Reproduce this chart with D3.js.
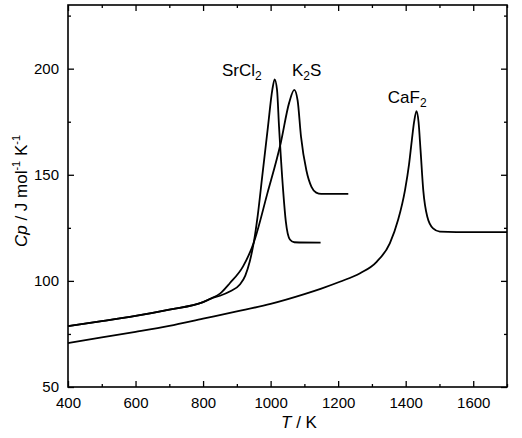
<!DOCTYPE html>
<html>
<head>
<meta charset="utf-8">
<script src="https://cdn.jsdelivr.net/npm/d3@7"></script>
<style>
  body { margin: 0; background: #fff; }
  text { font-family: "Liberation Sans", Arial, sans-serif; fill: #000; }
</style>
</head>
<body>
<div id="chart"></div>
<script>
// data (T in K, Cp in J mol-1 K-1)
var srcl2T  = [400, 500, 600, 700, 800, 825, 850, 879, 909, 925, 938, 950, 962, 975, 992, 1005, 1012, 1019, 1025, 1037, 1045, 1057, 1070, 1148];
var srcl2Cp = [78.7, 81, 83.5, 86.5, 90, 91.8, 93, 95, 98.3, 102.5, 109, 118, 131, 149, 172.5, 190, 195, 190, 172.5, 142.8, 128, 119.5, 118.2, 118];

var k2sT  = [400, 500, 600, 700, 800, 825, 850, 879, 918, 950, 990, 1030, 1055, 1070, 1080, 1090, 1106, 1121, 1135, 1150, 1230];
var k2sCp = [78.7, 81, 83.5, 86.5, 90, 91.8, 94, 98.9, 106.7, 118, 141, 165, 184, 190, 185, 168, 152, 144.3, 141.6, 141, 141];

var caf2T  = [400, 500, 600, 700, 800, 900, 1000, 1100, 1150, 1205, 1265, 1314, 1353, 1378, 1398, 1410, 1418, 1425, 1432, 1438, 1444, 1452, 1464, 1481, 1501, 1550, 1700];
var caf2Cp = [70.7, 73.4, 76, 78.8, 82.2, 85.6, 89.2, 93.8, 96.4, 99.6, 103.6, 109, 117.7, 129, 142.8, 155, 166, 175, 180, 175, 161.6, 142.8, 130.2, 124.7, 123.2, 123, 123];

var xTicks = [400, 600, 800, 1000, 1200, 1400, 1600];
var yTicks = [50, 100, 150, 200];

var labelNames = ["SrCl", "K", "CaF"];
var labelSubs  = ["2", "2", "2"];
var labelTail  = ["", "S", ""];
var labelT     = [856, 1063, 1347];
var labelCp    = [196.4, 196.4, 184];

// layout
var width = 522, height = 438;
var margin = {top: 5, right: 15, bottom: 51, left: 68};

var svg = d3.select("#chart").append("svg")
    .attr("width", width)
    .attr("height", height);

var xScale = d3.scaleLinear().domain([400, 1700]).range([margin.left, width - margin.right]);
var yScale = d3.scaleLinear().domain([50, 230]).range([height - margin.bottom, margin.top]);

var x0 = xScale.range()[0], x1 = xScale.range()[1];
var y0 = yScale.range()[0], y1 = yScale.range()[1];

// axes, ticks pointing inward on all four sides
var xMinor = d3.range(400, 1701, 100);
var yMinor = d3.range(50, 231, 25);

function drawX(g, major, size, labels) {
    g.call(d3.axisBottom(xScale).tickValues(major).tickSize(-size).tickPadding(size + 4).tickSizeOuter(0).tickFormat(labels ? d3.format("d") : ""));
}
function drawY(g, major, size, labels) {
    g.call(d3.axisLeft(yScale).tickValues(major).tickSize(-size).tickPadding(size + 3).tickSizeOuter(0).tickFormat(labels ? d3.format("d") : ""));
}

var gx = svg.append("g").attr("transform", `translate(0,${y0})`);
gx.call(g => drawX(g, xMinor.filter(d => d % 200 != 0), 3, false));
var gx2 = svg.append("g").attr("transform", `translate(0,${y0})`);
gx2.call(g => drawX(g, xTicks, 6, true));

var gxt = svg.append("g").attr("transform", `translate(0,${y1})`);
gxt.call(d3.axisTop(xScale).tickValues(xMinor).tickSize(0).tickFormat(""));
gxt.selectAll(".tick").append("line").attr("y2", d => d % 200 == 0 ? 6 : 3);

var gy = svg.append("g").attr("transform", `translate(${x0},0)`);
gy.call(g => drawY(g, yMinor.filter(d => d % 50 != 0), 3, false));
var gy2 = svg.append("g").attr("transform", `translate(${x0},0)`);
gy2.call(g => drawY(g, yTicks, 6, true));

var gyr = svg.append("g").attr("transform", `translate(${x1},0)`);
gyr.call(d3.axisRight(yScale).tickValues(yMinor).tickSize(0).tickFormat(""));
gyr.selectAll(".tick").append("line").attr("x2", d => d % 50 == 0 ? -6 : -3);

svg.selectAll(".domain").remove();
svg.selectAll(".tick line").attr("stroke", "#000").attr("stroke-width", 1.3);
svg.selectAll(".tick text").style("font-size", "15px").attr("fill", "#000");

// frame
svg.append("rect")
    .attr("x", x0).attr("y", y1)
    .attr("width", x1 - x0).attr("height", y0 - y1)
    .attr("fill", "none").attr("stroke", "#000").attr("stroke-width", 1.6);

// axis titles
svg.append("text")
    .attr("x", 299).attr("y", 428)
    .attr("text-anchor", "middle")
    .style("font-size", "17px")
    .call(t => {
        t.append("tspan").style("font-style", "italic").text("T");
        t.append("tspan").text(" / K");
    });

svg.append("text")
    .attr("transform", "translate(27,191) rotate(-90)")
    .attr("text-anchor", "middle")
    .style("font-size", "17px")
    .call(t => {
        t.append("tspan").style("font-style", "italic").text("Cp");
        t.append("tspan").text(" / J mol");
        t.append("tspan").attr("dy", -7).style("font-size", "11px").text("-1");
        t.append("tspan").attr("dy", 7).text(" K");
        t.append("tspan").attr("dy", -7).style("font-size", "11px").text("-1");
    });

// curves
var line = d3.line()
    .x(d => xScale(d[0]))
    .y(d => yScale(d[1]))
    .curve(d3.curveMonotoneX);

var series = [
    d3.zip(caf2T, caf2Cp),
    d3.zip(k2sT, k2sCp),
    d3.zip(srcl2T, srcl2Cp)
];

svg.append("g").selectAll("path")
    .data(series)
    .join("path")
    .attr("d", line)
    .attr("fill", "none")
    .attr("stroke", "#000")
    .attr("stroke-width", 1.8)
    .attr("stroke-linejoin", "round");

// curve labels
labelNames.forEach(function(name, i) {
    var t = svg.append("text")
        .attr("x", xScale(labelT[i]))
        .attr("y", yScale(labelCp[i]))
        .style("font-size", "17px");
    t.append("tspan").text(name);
    t.append("tspan").attr("dy", 4).style("font-size", "12px").text(labelSubs[i]);
    if (labelTail[i]) t.append("tspan").attr("dy", -4).text(labelTail[i]);
});
</script>
</body>
</html>
